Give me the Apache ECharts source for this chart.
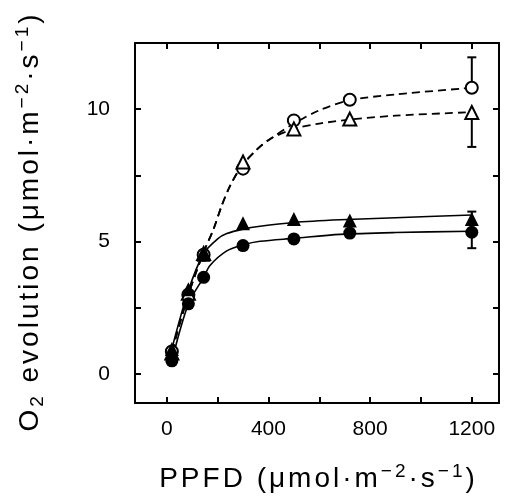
<!DOCTYPE html>
<html>
<head>
<meta charset="utf-8">
<script src="https://cdn.jsdelivr.net/npm/echarts@6/dist/echarts.min.js"></script>
<style>
html,body{margin:0;padding:0;background:#fff;}
#c{width:507px;height:498px;}
</style>
</head>
<body>
<div id="c"></div>
<script>
// Measured PPFD levels (µmol m-2 s-1)
const ppfd = [20, 85, 145, 300, 500, 720, 1200];
// O2 evolution means
const filledCircle = [0.5, 2.65, 3.65, 4.85, 5.1, 5.32, 5.35];
const filledTriangle = [0.95, 3.2, 4.5, 5.69, 5.85, 5.79, 5.85];
const openCircle = [0.85, 3.0, 4.5, 7.75, 9.57, 10.35, 10.8];
const openTriangle = [0.8, 3.05, 4.55, 8.0, 9.25, 9.62, 9.87];

// Fitted curves
const fitSolidTriX = [20, 85, 145, 200, 236, 300, 367, 500, 682, 900, 1200];
const fitSolidTriY = [0.95, 3.15, 4.55, 5.1, 5.3, 5.47, 5.58, 5.72, 5.82, 5.9, 6.0];
const fitSolidCircX = [20, 85, 145, 170, 236, 302, 367, 500, 682, 900, 1200];
const fitSolidCircY = [0.5, 2.65, 3.65, 4.1, 4.65, 4.88, 5.01, 5.12, 5.27, 5.34, 5.39];
const fitDashCircX = [20, 85, 145, 184, 216, 249, 295, 354, 407, 500, 600, 720, 900, 1200];
const fitDashCircY = [0.85, 3.0, 4.6, 5.47, 6.35, 7.1, 7.85, 8.47, 8.87, 9.45, 9.95, 10.33, 10.55, 10.8];
const fitDashTriX = [20, 85, 145, 184, 216, 249, 295, 354, 407, 500, 600, 720, 900, 1200];
const fitDashTriY = [0.85, 3.0, 4.6, 5.47, 6.35, 7.1, 7.85, 8.47, 8.87, 9.25, 9.45, 9.6, 9.75, 9.88];

// Error bars: [x, mean, tip]
const errorBars = [[1200, 10.8, 11.95], [1200, 9.87, 8.57], [1200, 5.85, 6.13], [1200, 5.35, 4.75]];

// Axis ticks and labels
const xTicks = [0, 200, 400, 600, 800, 1000, 1200];
const xLabels = [0, 400, 800, 1200];
const yTicks = [0, 2.5, 5, 7.5, 10];
const yLabels = [0, 5, 10];

const FONT = 'Liberation Sans';
const zip = (xs, ys) => xs.map((x, i) => [x, ys[i]]);

function spaced(parts) {
  return parts.map(([st, t]) => Array.from(t).map(ch => '{' + st + '|' + ch + '}').join('')).join('');
}
const pad = [0, 1.5, 0, 1.5];
const richName = {
  n: {fontFamily: FONT, fontSize: 28, color: '#000', lineHeight: 34, padding: pad},
  sup: {fontFamily: FONT, fontSize: 19, color: '#000', lineHeight: 19, verticalAlign: 'top', padding: pad},
  sub: {fontFamily: FONT, fontSize: 19, color: '#000', lineHeight: 19, verticalAlign: 'bottom', padding: pad}
};
const xName = spaced([['n', 'PPFD (μmol·m'], ['sup', '−2'], ['n', '·s'], ['sup', '−1'], ['n', ')']]);
const yName = spaced([['n', 'O'], ['sub', '2'], ['n', ' evolution (μmol·m'], ['sup', '−2'], ['n', '·s'], ['sup', '−1'], ['n', ')']]);

const XMIN = -125, XMAX = 1307, YMIN = -1.09, YMAX = 12.49;
const lineStyle = {color: '#000', width: 2};
const plain = v => String(v);

function axisBase(extra) {
  return Object.assign({
    type: 'value',
    axisLine: {show: true, onZero: false, lineStyle: lineStyle},
    splitLine: {show: false},
  }, extra);
}

const option = {
  animation: false,
  backgroundColor: '#fff',
  grid: {left: 135, right: 8, top: 43, bottom: 93, containLabel: false},
  xAxis: [
    axisBase({
      min: XMIN, max: XMAX, position: 'bottom',
      axisTick: {show: true, inside: true, length: 6, lineStyle: lineStyle, customValues: xTicks},
      axisLabel: {show: true, margin: 16, fontFamily: FONT, fontSize: 21, color: '#000', customValues: xLabels, formatter: plain},
      name: xName, nameLocation: 'middle', nameGap: 59,
      nameTextStyle: {rich: richName}
    }),
    axisBase({
      min: XMIN, max: XMAX, position: 'top',
      axisTick: {show: true, inside: true, length: 6, lineStyle: lineStyle, customValues: xTicks},
      axisLabel: {show: false}
    })
  ],
  yAxis: [
    axisBase({
      min: YMIN, max: YMAX, position: 'left',
      axisTick: {show: true, inside: true, length: 6, lineStyle: lineStyle, customValues: yTicks},
      axisLabel: {show: true, margin: 25, fontFamily: FONT, fontSize: 21, color: '#000', customValues: yLabels, formatter: plain},
      name: yName, nameLocation: 'middle', nameGap: 88, nameRotate: 90,
      nameTextStyle: {rich: richName}
    }),
    axisBase({
      min: YMIN, max: YMAX, position: 'right',
      axisTick: {show: true, inside: true, length: 6, lineStyle: lineStyle, customValues: yTicks},
      axisLabel: {show: false}
    })
  ],
  series: [
    {type: 'line', data: zip(fitDashCircX, fitDashCircY), smooth: 0.3, showSymbol: false, symbol: 'none',
     lineStyle: {color: '#000', width: 1.8, type: [8, 5]}, z: 2},
    {type: 'line', data: zip(fitDashTriX, fitDashTriY), smooth: 0.3, showSymbol: false, symbol: 'none',
     lineStyle: {color: '#000', width: 1.8, type: [8, 5]}, z: 2},
    {type: 'line', data: zip(fitSolidTriX, fitSolidTriY), smooth: 0.3, showSymbol: false, symbol: 'none',
     lineStyle: {color: '#000', width: 1.6}, z: 2},
    {type: 'line', data: zip(fitSolidCircX, fitSolidCircY), smooth: 0.3, showSymbol: false, symbol: 'none',
     lineStyle: {color: '#000', width: 1.6}, z: 2},
    {type: 'custom', data: errorBars, z: 3,
     renderItem: function (params, api) {
       const x = api.value(0), m = api.value(1), t = api.value(2);
       const p1 = api.coord([x, m]), p2 = api.coord([x, t]);
       const st = {stroke: '#000', lineWidth: 2};
       return {type: 'group', children: [
         {type: 'line', shape: {x1: p1[0], y1: p1[1], x2: p2[0], y2: p2[1]}, style: st},
         {type: 'line', shape: {x1: p2[0] - 4.5, y1: p2[1], x2: p2[0] + 4.5, y2: p2[1]}, style: st}
       ]};
     }},
    {type: 'scatter', data: zip(ppfd, openCircle), symbol: 'circle', symbolSize: 12, z: 5,
     itemStyle: {color: '#fff', borderColor: '#000', borderWidth: 2, opacity: 1}},
    {type: 'scatter', data: zip(ppfd, openTriangle), symbol: 'triangle', symbolSize: 13, z: 5,
     itemStyle: {color: '#fff', borderColor: '#000', borderWidth: 2, opacity: 1}},
    {type: 'scatter', data: zip(ppfd, filledTriangle), symbol: 'triangle', symbolSize: 14, z: 6,
     itemStyle: {color: '#000', opacity: 1}},
    {type: 'scatter', data: zip(ppfd, filledCircle), symbol: 'circle', symbolSize: 13, z: 6,
     itemStyle: {color: '#000', opacity: 1}}
  ]
};

const chart = echarts.init(document.getElementById('c'), null, {renderer: 'canvas'});
chart.setOption(option);
</script>
</body>
</html>
